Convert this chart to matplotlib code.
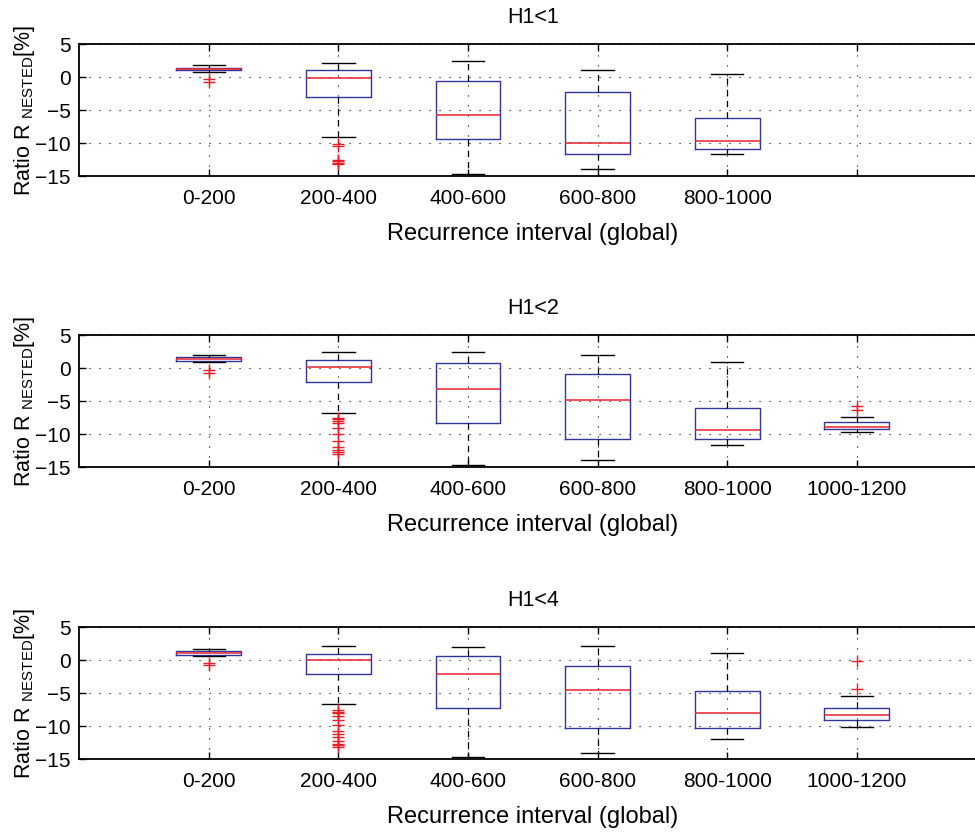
import matplotlib.pyplot as plt

plt.rcParams['font.family'] = ['Liberation Sans', 'DejaVu Sans']
plt.rcParams['mathtext.fontset'] = 'custom'
plt.rcParams['mathtext.rm'] = 'Liberation Sans'

categories = ['0-200', '200-400', '400-600', '600-800', '800-1000', '1000-1200']
titles = ['H1<1', 'H1<2', 'H1<4']

# H1<1 (no data in last interval)
h1_whislo = [0.8, -9.1, -14.75, -13.9, -11.67]
h1_q1 = [1.06, -3.0, -9.45, -11.67, -10.86]
h1_med = [1.16, -0.1, -5.75, -10.05, -9.75]
h1_q3 = [1.36, 1.1, -0.55, -2.27, -6.16]
h1_whishi = [1.8, 2.1, 2.4, 1.06, 0.4]
h1_fliers = [[-0.3, -0.7],
             [-10.1, -10.5, -12.6, -12.8, -13.0, -13.2],
             [], [], []]

# H1<2
h2_whislo = [0.86, -6.82, -14.75, -13.9, -11.67, -9.7]
h2_q1 = [1.06, -2.12, -8.38, -10.8, -10.76, -9.24]
h2_med = [1.36, 0.2, -3.13, -4.9, -9.39, -8.94]
h2_q3 = [1.62, 1.2, 0.71, -0.9, -6.06, -8.18]
h2_whishi = [1.97, 2.42, 2.37, 2.02, 0.96, -7.37]
h2_fliers = [[-0.3, -0.7],
             [-7.6, -7.8, -8.1, -8.4, -9.1, -10.0, -11.0, -12.0, -12.4, -12.8, -13.0],
             [], [], [],
             [-5.8, -6.3]]

# H1<4
h4_whislo = [0.6, -6.67, -14.75, -14.1, -11.9, -10.15]
h4_q1 = [0.81, -2.12, -7.27, -10.3, -10.25, -9.14]
h4_med = [1.11, 0.0, -2.07, -4.5, -8.03, -8.28]
h4_q3 = [1.31, 0.96, 0.6, -0.86, -4.65, -7.27]
h4_whishi = [1.67, 2.07, 1.97, 2.07, 1.11, -5.4]
h4_fliers = [[-0.45, -0.7],
             [-7.6, -7.9, -8.1, -8.5, -9.1, -9.9, -10.7, -11.2, -11.7, -12.3, -12.7, -12.9, -13.2],
             [], [], [],
             [-0.1, -4.34]]

panels = [
    (h1_whislo, h1_q1, h1_med, h1_q3, h1_whishi, h1_fliers),
    (h2_whislo, h2_q1, h2_med, h2_q3, h2_whishi, h2_fliers),
    (h4_whislo, h4_q1, h4_med, h4_q3, h4_whishi, h4_fliers),
]

fig = plt.figure(figsize=(9.75, 8.35), dpi=100)
bottoms = [0.7892, 0.4407, 0.0910]

for k, (lo, q1, med, q3, hi, fl) in enumerate(panels):
    ax = fig.add_axes([0.0813, bottoms[k], 0.9305, 0.1581])
    stats = []
    for i in range(len(med)):
        stats.append(dict(whislo=lo[i], q1=q1[i], med=med[i], q3=q3[i],
                          whishi=hi[i], fliers=fl[i]))
    ax.set_axisbelow(True)
    ax.bxp(stats, positions=range(1, len(med) + 1), widths=0.5, capwidths=0.25,
           manage_ticks=False,
           boxprops=dict(color='#34349e', linewidth=1.0),
           medianprops=dict(color='#e8232b', linewidth=1.1),
           whiskerprops=dict(color='black', linewidth=0.9, linestyle=(0, (5, 4))),
           capprops=dict(color='black', linewidth=1.0),
           flierprops=dict(marker='+', markeredgecolor='#ee1c24', markersize=9,
                           markeredgewidth=1.0, linestyle='none'))

    labels = categories[:len(med)] + [''] * (len(categories) - len(med))
    ax.set_xticks(range(1, len(categories) + 1))
    ax.set_xticklabels(labels)
    ax.set_xlim(0, 7)
    ax.set_ylim(-15, 5)
    ax.set_yticks([5, 0, -5, -10, -15])
    ax.grid(True, color='black', linestyle=(0, (1, 8)), linewidth=0.8)
    ax.tick_params(direction='in', length=5, width=1, top=True, right=True,
                   labelsize=15)
    ax.tick_params(axis='y', pad=6)
    ax.tick_params(axis='x', pad=9)
    for s in ax.spines.values():
        s.set_linewidth(1.3)
    ax.set_title(titles[k], fontsize=15.5, pad=15)
    ax.set_xlabel('Recurrence interval (global)', fontsize=17, labelpad=11)
    ax.set_ylabel('Ratio R $_{\\mathrm{NESTED}}$[%]', fontsize=15.5)
    ax.yaxis.set_label_coords(-0.047, 0.5)

fig.savefig('out.png', dpi=100)
